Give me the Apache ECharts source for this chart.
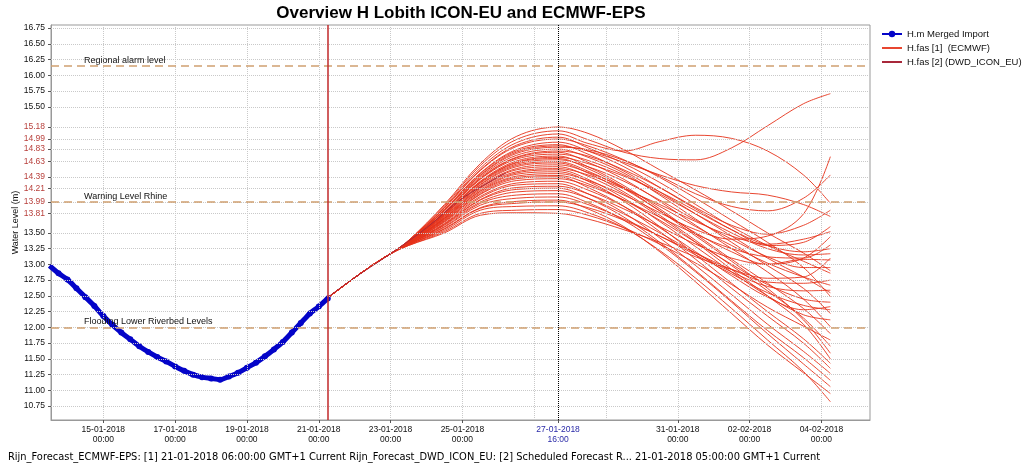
<!DOCTYPE html>
<html>
<head>
<meta charset="utf-8">
<script src="https://cdn.jsdelivr.net/npm/echarts@6/dist/echarts.min.js"></script>
<style>html,body{margin:0;padding:0;background:#fff;}#c{width:1023px;height:474px;}</style>
</head>
<body>
<div id="c"></div>
<script>
// ---------- DATA ----------
const titleText = 'Overview H Lobith ICON-EU and ECMWF-EPS';
const captionText = 'Rijn_Forecast_ECMWF-EPS: [1] 21-01-2018 06:00:00 GMT+1 Current Rijn_Forecast_DWD_ICON_EU: [2] Scheduled Forecast R... 21-01-2018 05:00:00 GMT+1 Current';

const blueTimes = ['2018-01-13 12:00','2018-01-13 18:00','2018-01-14 00:00','2018-01-14 06:00','2018-01-14 12:00','2018-01-14 18:00',
  '2018-01-15 00:00','2018-01-15 06:00','2018-01-15 12:00','2018-01-15 18:00','2018-01-16 00:00','2018-01-16 06:00',
  '2018-01-16 12:00','2018-01-16 18:00','2018-01-17 00:00','2018-01-17 06:00','2018-01-17 12:00','2018-01-17 18:00',
  '2018-01-18 00:00','2018-01-18 06:00','2018-01-18 12:00','2018-01-18 18:00','2018-01-19 00:00','2018-01-19 06:00',
  '2018-01-19 12:00','2018-01-19 18:00','2018-01-20 00:00','2018-01-20 06:00','2018-01-20 12:00','2018-01-20 18:00',
  '2018-01-21 00:00','2018-01-21 06:00'];
const blueValues = [12.98,12.86,12.76,12.62,12.48,12.34,
  12.18,12.04,11.92,11.81,11.70,11.61,
  11.53,11.46,11.38,11.31,11.25,11.21,
  11.19,11.17,11.22,11.28,11.36,11.44,
  11.54,11.65,11.77,11.92,12.07,12.22,
  12.33,12.46];

const trunkTimes = ['2018-01-21 06:00','2018-01-22 00:00','2018-01-22 12:00','2018-01-23 00:00'];
const trunkValues = [12.47,12.79,12.99,13.17];

const memberTimes = ['2018-01-23 12:00','2018-01-24 12:00','2018-01-25 12:00','2018-01-26 12:00','2018-01-27 16:00',
  '2018-01-28 12:00','2018-01-29 12:00','2018-01-30 12:00','2018-01-31 12:00','2018-02-01 12:00',
  '2018-02-02 12:00','2018-02-03 12:00','2018-02-04 06:00'];

const ecmwfMembers = [
  [13.38,13.95,14.60,15.03,15.18,15.08,14.82,14.50,14.18,13.85,13.50,13.18,12.90],
  [13.38,13.93,14.57,14.98,15.12,14.98,14.78,14.68,14.66,14.85,15.20,15.55,15.71],
  [13.37,13.91,14.53,14.93,15.07,14.92,14.80,14.95,15.05,15.00,14.80,14.42,13.97],
  [13.37,13.90,14.50,14.89,15.02,14.85,14.60,14.30,13.95,13.60,13.30,13.05,12.86],
  [13.37,13.89,14.49,14.87,14.99,14.88,14.66,14.38,14.05,13.70,13.35,12.95,12.49],
  [13.37,13.87,14.45,14.82,14.94,14.80,14.55,14.22,13.88,13.55,13.30,13.20,13.25],
  [13.36,13.86,14.44,14.80,14.90,14.75,14.48,14.15,13.80,13.45,13.10,12.80,12.55],
  [13.36,13.86,14.42,14.78,14.88,14.80,14.62,14.42,14.25,14.15,14.10,13.95,13.76],
  [13.36,13.85,14.41,14.76,14.86,14.82,14.65,14.40,14.12,13.92,13.85,14.05,14.42],
  [13.36,13.83,14.39,14.73,14.83,14.70,14.45,14.10,13.72,13.35,12.98,12.62,12.22],
  [13.36,13.82,14.37,14.70,14.80,14.72,14.50,14.22,13.90,13.62,13.48,13.62,13.86],
  [13.36,13.82,14.36,14.69,14.78,14.62,14.35,14.00,13.62,13.25,12.88,12.45,12.01],
  [13.35,13.81,14.35,14.67,14.75,14.65,14.42,14.12,13.80,13.50,13.25,13.15,13.17],
  [13.35,13.80,14.32,14.64,14.72,14.55,14.25,13.88,13.48,13.08,12.70,12.30,11.90],
  [13.35,13.79,14.31,14.62,14.70,14.60,14.40,14.15,13.85,13.55,13.30,13.35,13.60],
  [13.35,13.79,14.30,14.61,14.68,14.52,14.22,13.85,13.45,13.05,12.62,12.12,11.59],
  [13.35,13.78,14.29,14.59,14.66,14.55,14.32,14.02,13.70,13.40,13.12,12.95,12.95],
  [13.35,13.77,14.27,14.57,14.63,14.48,14.20,13.85,13.50,13.20,13.00,13.10,13.44],
  [13.35,13.76,14.26,14.55,14.61,14.45,14.15,13.78,13.38,12.98,12.58,12.15,11.70],
  [13.34,13.75,14.24,14.52,14.58,14.46,14.22,13.92,13.60,13.30,13.02,12.80,12.67],
  [13.34,13.74,14.22,14.50,14.55,14.40,14.12,13.75,13.35,12.92,12.50,12.05,11.50],
  [13.34,13.73,14.21,14.47,14.52,14.42,14.20,13.95,13.68,13.45,13.32,13.40,13.52],
  [13.34,13.73,14.19,14.45,14.50,14.35,14.05,13.68,13.28,12.88,12.50,12.20,12.12],
  [13.34,13.72,14.17,14.43,14.47,14.32,14.00,13.60,13.15,12.70,12.25,11.82,11.43],
  [13.34,13.71,14.16,14.40,14.44,14.33,14.10,13.82,13.55,13.40,13.45,13.80,14.71],
  [13.34,13.70,14.14,14.38,14.41,14.28,14.02,13.70,13.35,13.00,12.68,12.45,12.40],
  [13.33,13.69,14.12,14.36,14.39,14.22,13.92,13.52,13.08,12.62,12.18,11.75,11.35],
  [13.33,13.68,14.11,14.33,14.36,14.25,14.02,13.75,13.48,13.25,13.12,13.10,13.31],
  [13.33,13.67,14.08,14.29,14.32,14.18,13.92,13.58,13.20,12.82,12.48,12.28,12.33],
  [13.33,13.65,14.06,14.26,14.28,14.12,13.82,13.42,12.98,12.52,12.05,11.62,11.27],
  [13.32,13.64,14.03,14.22,14.24,14.12,13.88,13.60,13.32,13.10,13.00,13.08,13.07],
  [13.32,13.63,14.02,14.19,14.21,14.05,13.75,13.35,12.90,12.42,11.95,11.52,11.16],
  [13.32,13.62,13.99,14.15,14.17,14.05,13.80,13.50,13.18,12.88,12.65,12.58,12.59],
  [13.32,13.60,13.97,14.10,14.12,13.98,13.70,13.32,12.88,12.40,11.90,11.42,11.06],
  [13.32,13.59,13.94,14.05,14.07,13.95,13.72,13.45,13.15,12.85,12.55,12.35,12.28],
  [13.31,13.57,13.90,14.00,14.02,13.88,13.60,13.20,12.72,12.22,11.72,11.28,10.95],
  [13.31,13.56,13.89,13.97,13.99,13.90,13.70,13.45,13.18,12.92,12.72,12.70,12.75],
  [13.31,13.54,13.86,13.92,13.93,13.82,13.58,13.22,12.78,12.30,11.80,11.30,10.82],
  [13.30,13.52,13.81,13.86,13.87,13.78,13.58,13.32,13.02,12.68,12.32,12.02,11.80],
  [13.30,13.50,13.78,13.82,13.81,13.72,13.55,13.35,13.12,12.92,12.78,12.80,13.10]
];

const dwdTimes = ['2018-01-21 05:00','2018-01-22 00:00','2018-01-23 00:00','2018-01-24 00:00','2018-01-25 00:00','2018-01-26 05:00'];
const dwdValues = [12.46,12.79,13.17,13.58,14.05,14.45];

const yTickValues = [10.75,11.00,11.25,11.50,11.75,12.00,12.25,12.50,12.75,13.00,13.25,13.50,
  13.81,13.99,14.21,14.39,14.63,14.83,14.99,15.18,15.50,15.75,16.00,16.25,16.50,16.75];
const yRedTicks = [13.81,13.99,14.21,14.39,14.63,14.83,14.99,15.18];

const xGridTimes = ['2018-01-15 00:00','2018-01-17 00:00','2018-01-19 00:00','2018-01-21 00:00','2018-01-23 00:00',
  '2018-01-25 00:00','2018-01-27 00:00','2018-01-29 00:00','2018-01-31 00:00','2018-02-02 00:00','2018-02-04 00:00'];
const xLabelTimes = ['2018-01-15 00:00','2018-01-17 00:00','2018-01-19 00:00','2018-01-21 00:00','2018-01-23 00:00',
  '2018-01-25 00:00','2018-01-27 16:00','2018-01-31 00:00','2018-02-02 00:00','2018-02-04 00:00'];
const xHighlightTime = '2018-01-27 16:00';
const forecastT0 = '2018-01-21 06:00';

const refNames = ['Regional alarm level','Warning Level Rhine','Flooding Lower Riverbed Levels'];
const refValues = [16.15,13.99,12.00];

const legendNames = ['H.m Merged Import','H.fas [1]  (ECMWF)','H.fas [2] (DWD_ICON_EU)'];

// ---------- BUILD ----------
function T(s){ return new Date(s.replace(' ','T')+':00').getTime(); }
function pad(n){ return (n<10?'0':'')+n; }

const gridLineStyle = {color:'#c9c9c9', type:'dotted', width:1};
const markData = [];
yTickValues.forEach(v => markData.push({yAxis:v, lineStyle:gridLineStyle, label:{show:false}}));
xGridTimes.forEach(s => markData.push({xAxis:T(s), lineStyle:gridLineStyle, label:{show:false}}));

const refData = refValues.map((v,i)=>({
  yAxis:v, name:refNames[i],
  lineStyle:{color:'#d0a070', type:[8,5], width:1.5},
  label:{show:true, formatter:'{b}', position:'insideStartTop', distance:[33,1], color:'#111', fontSize:9, fontFamily:'Liberation Sans'}
}));
refData.push({xAxis:T(xHighlightTime), lineStyle:{color:'#000', type:'dotted', width:1}, label:{show:false}});
refData.push({xAxis:T(forecastT0), lineStyle:{color:'#c0282a', type:'solid', width:1.5}, label:{show:false}});

const series = [];
series.push({
  name:'grid', type:'line', data:[], z:1, silent:true,
  markLine:{silent:true, symbol:'none', animation:false, data:markData}
});
series.push({
  name:'refs', type:'line', data:[], z:5, silent:true,
  markLine:{silent:true, symbol:'none', animation:false, data:refData}
});
ecmwfMembers.forEach(m => {
  const d = trunkTimes.map((t,i)=>[T(t),trunkValues[i]]).concat(memberTimes.map((t,i)=>[T(t),m[i]]));
  series.push({name:legendNames[1], type:'line', data:d, smooth:0.35, symbol:'none', z:3,
    lineStyle:{width:1, color:'#e6321a', opacity:0.9}, itemStyle:{color:'#e07050'}});
});
series.push({name:legendNames[2], type:'line', data:dwdTimes.map((t,i)=>[T(t),dwdValues[i]]), smooth:0.35, symbol:'none', z:3,
  lineStyle:{width:1, color:'#a8283a'}, itemStyle:{color:'#a8283a'}});
series.push({name:legendNames[0], type:'line', data:blueTimes.map((t,i)=>[T(t),blueValues[i]]), smooth:0.3,
  symbol:'circle', symbolSize:6, showSymbol:true, z:4,
  lineStyle:{width:5, color:'#0404c8'}, itemStyle:{color:'#0404c8'}});

const redSet = new Set(yRedTicks.map(v=>v.toFixed(2)));
const hiT = T(xHighlightTime);

const option = {
  animation:false,
  backgroundColor:'#ffffff',
  title:[
    {text:titleText, left:456, textAlign:'center', top:0, textStyle:{fontSize:17, fontWeight:'bold', color:'#000', fontFamily:'Liberation Sans'}},
    {text:captionText, left:3, top:447, textStyle:{fontSize:9.9, fontWeight:'normal', color:'#000', fontFamily:'DejaVu Sans'}}
  ],
  legend:{
    data:[
      {name:legendNames[0]},
      {name:legendNames[1], itemStyle:{opacity:0}},
      {name:legendNames[2], itemStyle:{opacity:0}}
    ],
    orient:'vertical', left:881, top:29, padding:0, itemWidth:20, itemHeight:8, itemGap:4,
    textStyle:{fontSize:9.5, color:'#111', fontFamily:'Liberation Sans'}
  },
  grid:{left:51, right:153, top:25, bottom:54, show:true, borderColor:'#999', borderWidth:1, backgroundColor:'transparent', outerBoundsMode:'none', containLabel:false},
  xAxis:{
    type:'value', min:T('2018-01-13 13:00'), max:T('2018-02-05 08:30'),
    axisLine:{show:true, lineStyle:{color:'#999'}},
    axisTick:{show:true, customValues:xLabelTimes.map(T), length:3, lineStyle:{color:'#555'}},
    axisLabel:{
      customValues:xLabelTimes.map(T), margin:5, fontSize:8.5, lineHeight:10, color:'#111', fontFamily:'Liberation Sans',
      formatter:function(v){
        const d = new Date(v);
        const a = pad(d.getDate())+'-'+pad(d.getMonth()+1)+'-'+d.getFullYear();
        const b = pad(d.getHours())+':'+pad(d.getMinutes());
        if (Math.abs(v-hiT) < 60000) return '{b|'+a+'}\n{b|'+b+'}';
        return a+'\n'+b;
      },
      rich:{b:{color:'#2a2aa8', fontSize:8.5, lineHeight:10, fontFamily:'Liberation Sans'}}
    },
    splitLine:{show:false}
  },
  yAxis:{
    type:'value', min:10.53, max:16.80,
    name:'Water Level (m)', nameLocation:'middle', nameGap:31, nameRotate:90, nameMoveOverlap:false,
    nameTextStyle:{fontSize:9, color:'#111', fontFamily:'Liberation Sans'},
    axisLine:{show:true, lineStyle:{color:'#999'}},
    axisTick:{show:true, customValues:yTickValues, length:3, lineStyle:{color:'#555'}},
    axisLabel:{
      customValues:yTickValues, margin:6, fontSize:8.5, color:'#111', fontFamily:'Liberation Sans',
      formatter:function(v){ const s=v.toFixed(2); return redSet.has(s)?'{r|'+s+'}':s; },
      rich:{r:{color:'#b8403c', fontSize:8.5, fontFamily:'Liberation Sans'}}
    },
    splitLine:{show:false}
  },
  series:series
};
const chart = echarts.init(document.getElementById('c'), null, {renderer:'canvas'});
chart.setOption(option);
</script>
</body>
</html>
